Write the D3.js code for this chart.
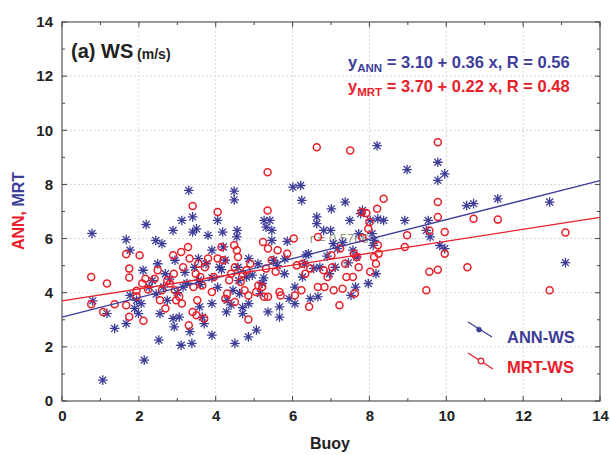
<!DOCTYPE html>
<html><head><meta charset="utf-8">
<script src="https://cdn.jsdelivr.net/npm/d3@7"></script>
<style>body{margin:0;background:#fff}svg{display:block;font-family:"Liberation Sans",Arial,sans-serif}</style>
</head><body><svg id="c" width="610" height="455"></svg>
<script>
const annX=[0.78,0.8,1.06,1.17,1.37,1.67,1.67,1.77,1.77,1.89,1.94,1.99,2.06,2.11,2.14,2.19,2.27,2.44,2.49,2.52,2.55,2.6,2.64,2.69,2.74,2.89,2.89,2.92,2.94,3.05,3.1,3.12,3.15,3.3,3.33,3.38,3.4,3.4,3.5,3.45,3.55,3.55,3.58,3.65,3.7,3.8,3.75,3.9,3.9,3.9,4.05,4.1,4.18,4.2,4.25,4.28,4.3,4.45,4.48,4.48,4.5,4.55,4.56,4.58,4.62,4.7,4.8,4.85,4.86,4.86,5.06,5.1,5.16,5.21,5.26,5.31,5.36,5.41,5.46,5.46,5.51,5.66,5.66,5.79,5.86,5.91,6.01,6.06,6.06,6.21,6.24,6.26,6.31,6.41,6.46,6.63,6.63,6.66,6.71,6.81,6.96,6.99,7.01,7.06,7.11,7.17,7.37,7.49,7.52,7.57,7.64,7.67,7.72,7.77,7.82,7.97,8.02,8.07,8.12,8.17,8.2,8.22,8.37,8.98,8.92,9.48,9.53,9.58,9.78,9.78,9.83,9.96,9.96,10.53,10.71,11.34,12.69,13.1,
 2.35,2.8,3.0,3.2,3.6,3.9,4.15,4.4,4.6,4.95,5.25,5.6,6.35,6.9,7.3,8.1,2.45,3.25,4.05,4.7,5.8,6.55,7.45];
const annY=[6.19,3.7,0.77,3.23,2.68,5.96,2.86,5.57,3.9,3.42,3.72,3.23,3.6,4.83,1.51,6.52,4.21,5.93,5.07,2.25,3.23,5.81,4.21,4.7,3.72,6.3,3.05,2.74,5.2,3.1,2.06,6.67,4.21,7.78,2.56,2.13,6.8,6.24,6.36,4.94,5.26,4.46,3.48,3.1,2.86,6.12,5.07,2.43,3.6,5.57,6.67,4.94,6.24,5.69,5.2,3.29,3.72,4.09,7.75,7.43,2.13,6.06,6.3,4.94,3.97,3.23,4.58,2.37,5.26,3.6,2.62,5.07,3.97,4.34,6.67,6.42,3.29,6.67,6.3,5.93,5.2,3.48,3.1,4.7,5.9,3.78,7.9,3.6,4.21,7.96,7.41,4.58,5.07,5.44,3.78,6.8,6.55,3.85,4.94,6.3,4.7,6.3,7.1,5.81,4.94,5.63,7.35,6.67,3.9,5.57,4.21,5.32,6.18,6.92,7.04,4.34,6.67,6.18,5.93,4.7,9.43,6.73,6.67,8.55,6.67,6.3,6.67,6.06,8.82,8.15,5.75,8.39,5.63,7.22,7.29,7.47,7.35,5.11,
 4.45,4.5,4.0,4.75,4.3,4.55,4.85,3.55,4.45,4.65,4.55,5.0,5.4,5.35,5.85,5.75,3.95,4.35,4.2,3.45,5.25,4.9,5.1];
const mrtX=[0.76,0.76,1.07,1.17,1.37,1.67,1.67,1.75,1.75,1.75,1.94,1.94,2.02,2.09,2.12,2.17,2.24,2.41,2.49,2.55,2.6,2.69,2.74,2.81,2.89,2.91,2.94,2.97,3.05,3.1,3.12,3.15,3.28,3.3,3.32,3.4,3.4,3.42,3.48,3.5,3.52,3.55,3.6,3.65,3.7,3.72,3.8,3.9,3.95,4.05,4.05,4.15,4.2,4.25,4.3,4.35,4.4,4.48,4.5,4.5,4.55,4.58,4.65,4.7,4.75,4.8,4.85,4.85,4.9,5.05,5.11,5.21,5.23,5.26,5.31,5.35,5.35,5.36,5.36,5.46,5.56,5.61,5.66,5.69,5.86,6.03,6.06,6.11,6.23,6.26,6.33,6.43,6.46,6.63,6.66,6.66,6.81,6.83,6.91,7.01,7.03,7.07,7.22,7.24,7.3,7.37,7.4,7.5,7.57,7.6,7.62,7.67,7.72,7.82,7.8,7.92,7.97,8.0,8.02,8.12,8.17,8.2,8.22,8.24,8.37,8.92,8.98,9.48,9.56,9.56,9.78,9.78,9.78,9.78,9.96,9.96,10.55,10.71,11.34,12.69,13.1];
const mrtY=[4.58,3.57,3.29,4.34,3.57,5.42,3.54,4.89,4.56,3.11,4.07,3.87,5.38,4.34,2.96,4.52,4.12,4.52,4.83,3.72,4.09,3.42,4.46,4.34,5.38,4.7,4.09,3.72,3.85,5.5,3.6,4.94,5.69,2.8,5.26,7.2,3.29,4.21,4.7,3.17,3.72,5.07,4.58,4.27,3.05,4.94,5.26,4.03,4.58,6.98,5.26,5.69,5.2,3.78,3.97,4.46,4.7,5.75,4.94,3.66,5.57,5.32,4.4,4.7,4.09,4.83,3.9,3.01,5.07,4.03,4.27,4.21,5.87,3.85,4.89,8.45,7.04,5.63,3.85,5.2,4.77,5.57,4.03,3.9,5.44,6.0,3.9,5.01,4.09,5.07,4.7,3.48,4.89,9.37,4.21,6.06,4.83,4.21,4.58,5.38,4.94,4.09,3.54,5.63,4.15,5.07,4.58,9.25,4.58,5.44,3.97,5.32,4.94,6.02,6.98,6.94,6.36,6.6,4.77,5.32,5.07,7.1,5.75,5.44,7.47,5.69,6.12,4.09,4.77,6.3,9.56,7.35,6.8,4.85,6.24,5.44,4.94,6.73,6.7,4.09,6.22];
const fits=[{name:"ANN",a:3.10,b:0.36,color:"#3d3d99"},{name:"MRT",a:3.70,b:0.22,color:"#e8202a"}];
const ticks=[0,2,4,6,8,10,12,14];

const svg=d3.select("#c");
const m={l:62,r:10,t:22,b:54};
const W=610,H=455;
const x=d3.scaleLinear().domain([0,14]).range([m.l,W-m.r]);
const y=d3.scaleLinear().domain([0,14]).range([H-m.b,m.t]);
const blue="#3d3d99", red="#e8202a";

// grid
const g=svg.append("g");
g.selectAll(".gx").data(ticks.slice(1,-1)).join("line").attr("x1",d=>x(d)).attr("x2",d=>x(d)).attr("y1",y(0)).attr("y2",y(14)).attr("stroke","#d8d8d8").attr("stroke-dasharray","2,2");
g.selectAll(".gy").data(ticks.slice(1,-1)).join("line").attr("y1",d=>y(d)).attr("y2",d=>y(d)).attr("x1",x(0)).attr("x2",x(14)).attr("stroke","#d8d8d8").attr("stroke-dasharray","2,2");

// frame
svg.append("rect").attr("x",x(0)).attr("y",y(14)).attr("width",x(14)-x(0)).attr("height",y(0)-y(14)).attr("fill","none").attr("stroke","#555").attr("stroke-width",1.2);

// axes
const ax=svg.append("g").attr("transform",`translate(0,${y(0)})`).call(d3.axisBottom(x).tickValues(ticks).tickSize(0).tickPadding(9).tickFormat(d3.format("d")));
const ay=svg.append("g").attr("transform",`translate(${x(0)},0)`).call(d3.axisLeft(y).tickValues(ticks).tickSize(0).tickPadding(9).tickFormat(d3.format("d")));
[ax,ay].forEach(a=>{a.select(".domain").remove();a.selectAll("text").attr("font-size",15).attr("font-weight","bold").attr("fill","#222").attr("font-family","Liberation Sans, Arial, sans-serif");});
const minor=d3.range(0,14.01,1);
minor.forEach(v=>{
  const len=(v%2===0)?5:3;
  svg.append("line").attr("x1",x(v)).attr("x2",x(v)).attr("y1",y(0)).attr("y2",y(0)-len).attr("stroke","#444");
  svg.append("line").attr("x1",x(v)).attr("x2",x(v)).attr("y1",y(14)).attr("y2",y(14)+len).attr("stroke","#444");
  svg.append("line").attr("y1",y(v)).attr("y2",y(v)).attr("x1",x(0)).attr("x2",x(0)+len).attr("stroke","#444");
  svg.append("line").attr("y1",y(v)).attr("y2",y(v)).attr("x1",x(14)).attr("x2",x(14)-len).attr("stroke","#444");
});

// remnant label
svg.append("text").attr("x",x(6.45)).attr("y",y(5.82)).text("r = 0.5766").attr("font-size",13).attr("fill","#6a7a5a").attr("opacity",0.75);

// ANN asterisks
const star=svg.append("g");
const s=4.8;
annX.forEach((xv,i)=>{
  const cx=x(xv),cy=y(annY[i]);
  const p=`M${cx-s},${cy}L${cx+s},${cy}M${cx},${cy-s}L${cx},${cy+s}M${cx-s*0.72},${cy-s*0.72}L${cx+s*0.72},${cy+s*0.72}M${cx-s*0.72},${cy+s*0.72}L${cx+s*0.72},${cy-s*0.72}`;
  star.append("path").attr("d",p).attr("stroke",blue).attr("stroke-width",1.3).attr("fill","none");
});
// MRT circles
svg.append("g").selectAll("circle").data(mrtX.map((v,i)=>[v,mrtY[i]])).join("circle")
  .attr("cx",d=>x(d[0])).attr("cy",d=>y(d[1])).attr("r",3.5).attr("fill","none").attr("stroke",red).attr("stroke-width",1.5);

// fit lines
const line=d3.line().x(d=>x(d[0])).y(d=>y(d[1]));
fits.forEach(f=>{
  svg.append("path").attr("d",line([[0,f.a],[14,f.a+f.b*14]])).attr("stroke",f.color).attr("stroke-width",1.3).attr("fill","none");
});

// title
const t=svg.append("text").attr("x",71).attr("y",58).attr("fill","#222").attr("font-weight","bold");
t.append("tspan").text("(a) WS").attr("font-size",20);
t.append("tspan").text(" (m/s)").attr("font-size",14).attr("dy",1);

// equations
function eq(yy,sub,txt,col){
  const e=svg.append("text").attr("x",348).attr("y",yy).attr("fill",col).attr("font-weight","bold").attr("font-size",16.5);
  e.append("tspan").text("y");
  e.append("tspan").text(sub).attr("font-size",11.5).attr("dy",4);
  e.append("tspan").text(" = "+txt).attr("dy",-4);
}
eq(68,"ANN","3.10 + 0.36 x, R = 0.56",blue);
eq(92,"MRT","3.70 + 0.22 x, R = 0.48",red);

// legend
svg.append("line").attr("x1",468).attr("y1",322).attr("x2",492).attr("y2",337).attr("stroke",blue).attr("stroke-width",1.3);
{const cx=479,cy=329.5,q=3;svg.append("path").attr("d",`M${cx-q},${cy}L${cx+q},${cy}M${cx},${cy-q}L${cx},${cy+q}M${cx-2},${cy-2}L${cx+2},${cy+2}M${cx-2},${cy+2}L${cx+2},${cy-2}`).attr("stroke",blue).attr("stroke-width",1.3);}
svg.append("text").attr("x",507).attr("y",343).text("ANN-WS").attr("fill",blue).attr("font-weight","bold").attr("font-size",16.5);
svg.append("line").attr("x1",468).attr("y1",353).attr("x2",493).attr("y2",369).attr("stroke",red).attr("stroke-width",1.3);
svg.append("circle").attr("cx",481).attr("cy",361).attr("r",2.8).attr("fill","#fff").attr("stroke",red).attr("stroke-width",1.3);
svg.append("text").attr("x",507).attr("y",373).text("MRT-WS").attr("fill",red).attr("font-weight","bold").attr("font-size",16.5);

// axis titles
svg.append("text").attr("x",330).attr("y",449).attr("text-anchor","middle").text("Buoy").attr("font-weight","bold").attr("font-size",16).attr("fill","#222");
const yt=svg.append("text").attr("transform","translate(24,211) rotate(-90)").attr("text-anchor","middle").attr("font-weight","bold").attr("font-size",16);
yt.append("tspan").text("ANN, ").attr("fill",red);
yt.append("tspan").text("MRT").attr("fill",blue);
</script></body></html>
